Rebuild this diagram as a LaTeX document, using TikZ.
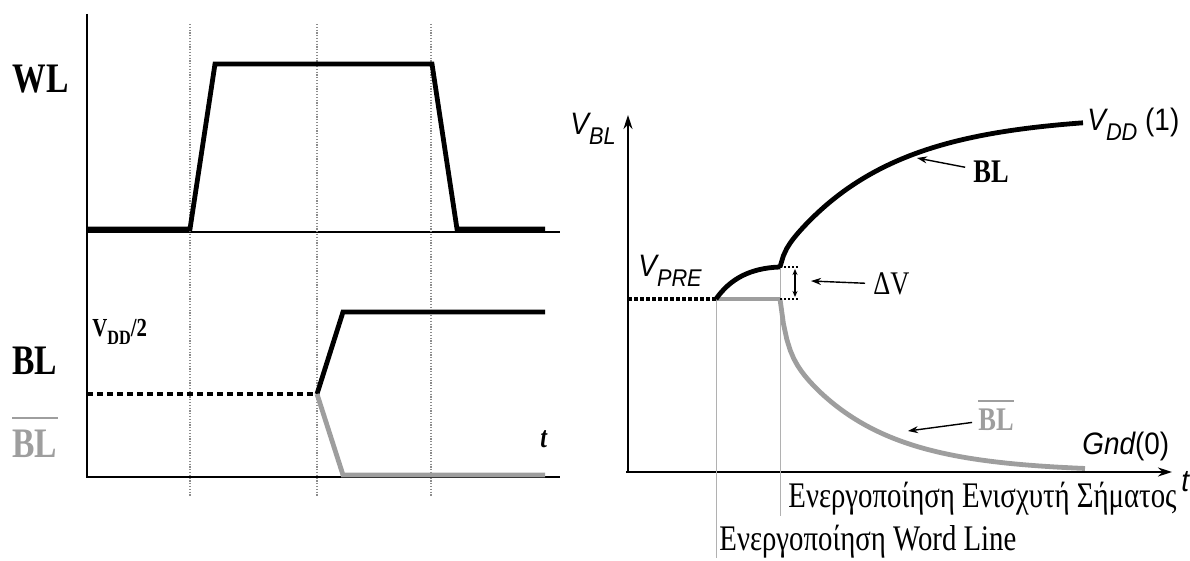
\documentclass[tikz,border=0pt]{standalone}
\usepackage{fontspec}
\setmainfont{Liberation Serif}[FakeStretch=0.8]
\newfontfamily\arialfont{Liberation Sans}[FakeStretch=0.9]
\usetikzlibrary{arrows.meta}
\definecolor{lowbl}{gray}{0.62}
\definecolor{tickgray}{gray}{0.55}
\newcommand{\lowidx}[1]{\raisebox{-0.3em}{\scalebox{0.78}{#1}}}

\begin{document}
\begin{tikzpicture}[x=0.5pt, y=-0.5pt,
  axis/.style={line width=1pt},
  trace/.style={line width=2.4pt, line join=miter},
  precharge/.style={line width=2.2pt, dash pattern=on 3pt off 2pt},
  tick/.style={tickgray, line width=0.6pt, dash pattern=on 0.6pt off 0.8pt},
  hint/.style={lowbl!80, line width=0.5pt},
  boxdot/.style={line width=1pt, dash pattern=on 1pt off 1pt},
  pointer/.style={-{Stealth[length=5pt,width=3.5pt]}, line width=0.7pt},
  sigtag/.style={font=\fontsize{21}{24}\selectfont\bfseries, inner sep=0, anchor=base west},
  smalltag/.style={font=\fontsize{16.5}{19}\selectfont\bfseries, inner sep=0, anchor=base west},
  sanstag/.style={font=\arialfont\fontsize{15.5}{18}\selectfont, inner sep=0, anchor=base west},
  greektag/.style={font=\fontsize{18}{21}\selectfont, inner sep=0, anchor=base west}]
\useasboundingbox (0,0) rectangle (1190,561);

% left: timing of WL and BL
\draw[axis] (87,14) -- (87,478);
\draw[axis] (87,232) -- (560,232);
\draw[axis] (87,477) -- (560,477);
\foreach \x in {190,317,431}
  \draw[tick] (\x,24) -- (\x,497);
\draw[trace] (87,229) -- (190,229) -- (215,64) -- (432,64) -- (457,229) -- (545,229);
\draw[precharge] (87,394) -- (317,394);
\draw[trace] (317,394) -- (343,312) -- (545,312);
\draw[trace, lowbl] (317,394) -- (343,475) -- (545,475);
\node[sigtag] (wl) at (12,93) {WL};
\node[sigtag] (bl) at (12,375) {BL};
\node[sigtag, lowbl] (blb) at (12,458) {BL};
\draw[lowbl, line width=1pt] ([yshift=6pt]blb.north west) -- ([yshift=6pt]blb.north east);
\node[font=\fontsize{13}{15}\selectfont\bfseries, inner sep=0, anchor=base west] (half) at (92,337) {V\lowidx{DD}/2};
\node[font=\fontsize{15}{17}\selectfont\bfseries\itshape, inner sep=0, anchor=base west] (tleft) at (540,448) {t};

% right: bit line voltage
\draw[axis, -{Stealth[length=7pt,width=4.5pt]}] (628,472) -- (628,115);
\draw[axis, -{Stealth[length=7pt,width=4.5pt]}] (626,472) -- (1172,472);
\coordinate (wlstart) at (716,299);
\coordinate (sastart) at (780,267);
\coordinate (salow) at (780,299);
\node[greektag] (sense) at (788,508) {Ενεργοποίηση Ενισχυτή Σήματος};
\node[greektag] (wlon) at (719,550) {Ενεργοποίηση Word Line};
\draw[hint] (wlstart) -- (wlstart |- wlon.south);
\draw[hint] (sastart) -- (sastart |- sense.south);
\draw[line width=1.6pt, dash pattern=on 1.75pt off 1.25pt] (628,299) -- (wlstart);
\draw[trace, lowbl] (wlstart) -- (salow);
\draw[trace] (wlstart) .. controls (730,279) and (750,268) .. (sastart);
\draw[trace] plot[domain=780:1083, samples=90]
  (\x, {267-140*(1-exp(-(\x-780)/105))-12*(1-exp(-(\x-780)/4))});
\draw[trace, lowbl] plot[domain=780:1085, samples=90]
  (\x, {299+128*(1-exp(-(\x-780)/85))+45*(1-exp(-(\x-780)/6))});
\draw[boxdot] (sastart) -- ++(20,0);
\draw[boxdot] (salow) -- ++(20,0);
\coordinate (dtop) at (795,269);
\coordinate (dbot) at (795,297);
\draw[{Stealth[length=3pt,width=2.5pt]}-{Stealth[length=3pt,width=2.5pt]}, line width=0.6pt] (dtop) -- (dbot);

\node[sanstag] (vbl) at (570,135) {\itshape V\lowidx{BL}};
\node[sanstag] (vpre) at (638,277) {\itshape V\lowidx{PRE}};
\node[sanstag] (vdd) at (1087,131) {{\itshape V\lowidx{DD}} (1)};
\node[sanstag] (gnd) at (1082,455) {{\itshape Gnd}(0)};
\node[sanstag] (taxis) at (1181,492) {\itshape t};
\node[font=\fontsize{16.5}{19}\selectfont, inner sep=0, anchor=base west] (dv) at (873,295) {ΔV};
\node[smalltag] (blr) at (973,183) {BL};
\node[smalltag, lowbl] (blbr) at (978,430) {BL};
\draw[lowbl, line width=1pt] ([yshift=3.5pt]blbr.north west) -- ([yshift=3.5pt]blbr.north east);

\coordinate (dvpt) at (811,281);
\coordinate (blpt) at (917,158);
\coordinate (blbpt) at (908,431);
\draw[pointer, shorten <=4pt] (dv) -- (dvpt);
\draw[pointer, shorten <=4pt] (blr) -- (blpt);
\draw[pointer, shorten <=3pt] (blbr) -- (blbpt);
\end{tikzpicture}
\end{document}
